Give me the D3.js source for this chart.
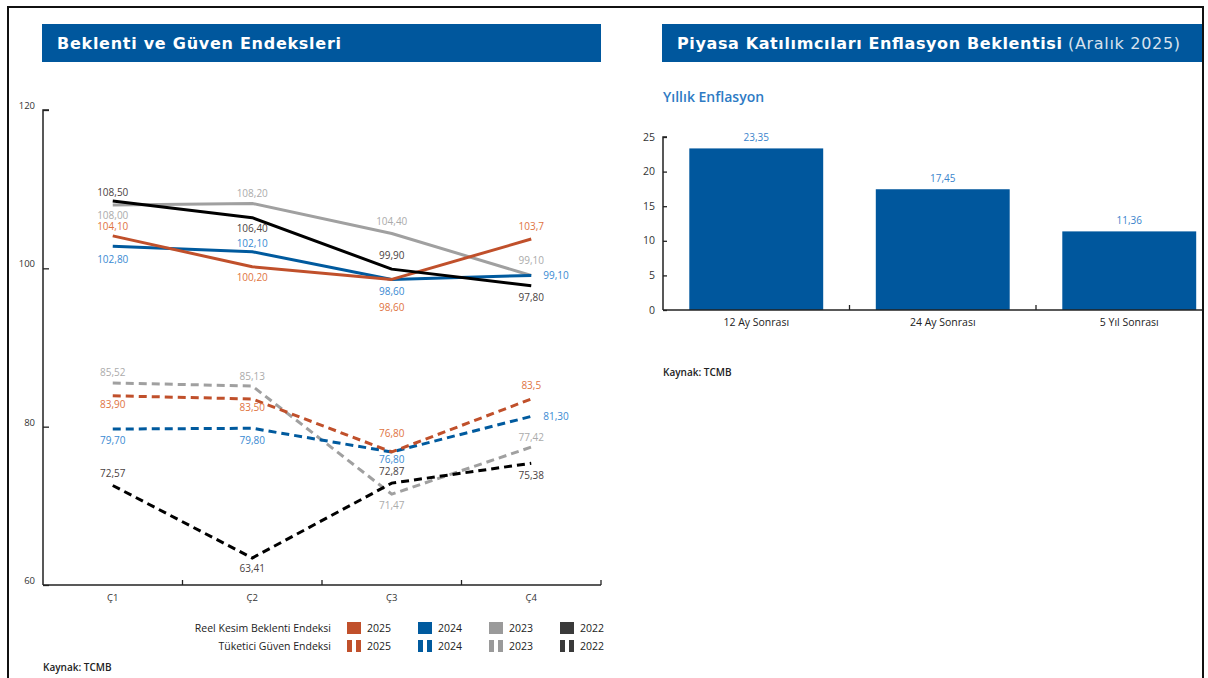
<!DOCTYPE html>
<html><head><meta charset="utf-8">
<script src="https://cdn.jsdelivr.net/npm/d3@7/dist/d3.min.js"></script>
<style>
html,body{margin:0;padding:0;background:#fff;}
svg{display:block;font-family:"Open Sans",sans-serif;}
.hdr{font-family:"DejaVu Sans",sans-serif;}
</style></head>
<body>
<svg id="c" width="1208" height="678"></svg>
<script>
// ---------- DATA ----------
const quarters = ["Ç1", "Ç2", "Ç3", "Ç4"];
const years = ["2025", "2024", "2023", "2022"];

// Reel Kesim Beklenti Endeksi (solid)
const reel2025 = [104.10, 100.20, 98.60, 103.7];
const reel2024 = [102.80, 102.10, 98.60, 99.10];
const reel2023 = [108.00, 108.20, 104.40, 99.10];
const reel2022 = [108.50, 106.40, 99.90, 97.80];
const reelDecimals2025 = [2, 2, 2, 1];

// Tüketici Güven Endeksi (dashed)
const tuk2025 = [83.90, 83.50, 76.80, 83.5];
const tuk2024 = [79.70, 79.80, 76.80, 81.30];
const tuk2023 = [85.52, 85.13, 71.47, 77.42];
const tuk2022 = [72.57, 63.41, 72.87, 75.38];
const tukDecimals2025 = [2, 2, 2, 1];

const leftYTicks = [60, 80, 100, 120];

// Piyasa Katılımcıları Enflasyon Beklentisi
const horizons = ["12 Ay Sonrası", "24 Ay Sonrası", "5 Yıl Sonrası"];
const inflationExp = [23.35, 17.45, 11.36];
const rightYTicks = [0, 5, 10, 15, 20, 25];

// ---------- LAYOUT (label offsets in px, kept separate from data) ----------
const reelLabelDy = {
  "2025": [-9, 11, 28, -13],
  "2024": [13, -8, 12, "r"],
  "2023": [10, -10, -12, -15],
  "2022": [-9, 11, -14, 12]
};
const tukLabelDy = {
  "2025": [9, 9, -19, -13],
  "2024": [11, 12, 7, "r"],
  "2023": [-10, -10, 11, -10],
  "2022": [-12, 10, -12, 12]
};

const lineColor = {"2025": "#C0502B", "2024": "#005A9E", "2023": "#A0A0A0", "2022": "#000000"};
const labelColor = {"2025": "#E0743F", "2024": "#3A8AD2", "2023": "#ABABAB", "2022": "#4A4242"};
const swatchColor = {"2025": "#C0502B", "2024": "#005A9E", "2023": "#9A9A9A", "2022": "#3A3A3A"};

const svg = d3.select("#c");
const fmt = (v, d) => v.toFixed(d).replace(".", ",");

// frame
svg.append("path").attr("d", "M8,678 V7 H1203 V678")
  .attr("fill", "none").attr("stroke", "#111").attr("stroke-width", 2);

// ---------- LEFT PANEL ----------
svg.append("rect").attr("x", 42).attr("y", 24).attr("width", 559).attr("height", 38).attr("fill", "#00579D");
svg.append("text").attr("class", "hdr").attr("x", 57).attr("y", 49).attr("fill", "#fff")
  .attr("font-size", 16).attr("font-weight", 700)
  .attr("textLength", 284).attr("lengthAdjust", "spacing")
  .text("Beklenti ve Güven Endeksleri");

const xL = d3.scaleBand().domain(quarters).range([43, 601]);
const yL = d3.scaleLinear().domain([60, 120]).range([585, 110]);
const cx = q => xL(q) + xL.bandwidth() / 2;

// y axis
const gy = svg.append("g").attr("transform", "translate(43,0)")
  .call(d3.axisRight(yL).tickValues(leftYTicks).tickSize(6).tickFormat(""));
gy.select(".domain").attr("stroke", "#222").attr("stroke-width", 1.5).attr("d", `M6,${yL(120)}H0V${yL(60)}`);
gy.selectAll(".tick line").attr("stroke", "#222").attr("stroke-width", 1.3);
svg.append("g").selectAll("text").data(leftYTicks).join("text")
  .attr("x", 35).attr("y", d => yL(d) - 1).attr("text-anchor", "end")
  .attr("font-size", 9.5).attr("fill", "#333").text(d => d);

// x axis
svg.append("line").attr("x1", 43).attr("x2", 601).attr("y1", 585).attr("y2", 585)
  .attr("stroke", "#222").attr("stroke-width", 1.5);
const bounds = quarters.map(q => xL(q)).concat([xL.range()[1]]).slice(1);
svg.append("g").selectAll("line").data(bounds).join("line")
  .attr("x1", d => d).attr("x2", d => d).attr("y1", 585).attr("y2", 580)
  .attr("stroke", "#222").attr("stroke-width", 1.3);
svg.append("g").selectAll("text").data(quarters).join("text")
  .attr("x", d => cx(d)).attr("y", 601).attr("text-anchor", "middle")
  .attr("font-size", 9.5).attr("fill", "#333").text(d => d);

const line = d3.line().x((d, i) => cx(quarters[i])).y(d => yL(d));

const reel = {"2025": reel2025, "2024": reel2024, "2023": reel2023, "2022": reel2022};
const tuk = {"2025": tuk2025, "2024": tuk2024, "2023": tuk2023, "2022": tuk2022};
const drawOrder = ["2023", "2024", "2025", "2022"];

drawOrder.forEach(y => {
  svg.append("path").datum(tuk[y]).attr("d", line).attr("fill", "none")
    .attr("stroke", lineColor[y]).attr("stroke-width", 3).attr("stroke-dasharray", "8,5");
});
drawOrder.forEach(y => {
  svg.append("path").datum(reel[y]).attr("d", line).attr("fill", "none")
    .attr("stroke", lineColor[y]).attr("stroke-width", 3).attr("stroke-linejoin", "round");
});

function labels(vals, dys, y, decs) {
  const g = svg.append("g");
  vals.forEach((v, i) => {
    const dy = dys[i];
    const right = dy === "r";
    g.append("text")
      .attr("x", right ? cx(quarters[i]) + 12 : cx(quarters[i]))
      .attr("y", yL(v) + (right ? 0 : dy))
      .attr("dy", "0.35em")
      .attr("text-anchor", right ? "start" : "middle")
      .attr("font-size", 10).attr("fill", labelColor[y])
      .text(fmt(v, decs ? decs[i] : 2));
  });
}
years.forEach(y => {
  labels(reel[y], reelLabelDy[y], y, y === "2025" ? reelDecimals2025 : null);
  labels(tuk[y], tukLabelDy[y], y, y === "2025" ? tukDecimals2025 : null);
});

// legend
const legRows = [{name: "Reel Kesim Beklenti Endeksi", y: 628, dashed: false},
                 {name: "Tüketici Güven Endeksi", y: 646, dashed: true}];
const legX = [347, 418, 489, 560];
legRows.forEach(r => {
  svg.append("text").attr("x", 331).attr("y", r.y).attr("dy", "0.35em")
    .attr("text-anchor", "end").attr("font-size", 10.5).attr("fill", "#222").text(r.name);
  years.forEach((yr, i) => {
    if (!r.dashed) {
      svg.append("rect").attr("x", legX[i]).attr("y", r.y - 6).attr("width", 14).attr("height", 12)
        .attr("fill", swatchColor[yr]);
    } else {
      [0, 9].forEach(o => svg.append("rect").attr("x", legX[i] + o).attr("y", r.y - 6)
        .attr("width", 5).attr("height", 12).attr("fill", swatchColor[yr]));
    }
    svg.append("text").attr("x", legX[i] + 20).attr("y", r.y).attr("dy", "0.35em")
      .attr("font-size", 10.5).attr("fill", "#222").text(yr);
  });
});
svg.append("text").attr("x", 43).attr("y", 667).attr("dy", "0.35em")
  .attr("font-size", 10).attr("font-weight", 600).attr("fill", "#222").text("Kaynak: TCMB");

// ---------- RIGHT PANEL ----------
svg.append("defs").append("clipPath").attr("id", "clipR")
  .append("rect").attr("x", 620).attr("y", 0).attr("width", 582).attr("height", 678);
const R = svg.append("g").attr("clip-path", "url(#clipR)");

R.append("rect").attr("x", 662).attr("y", 24).attr("width", 560).attr("height", 38).attr("fill", "#00579D");
R.append("text").attr("class", "hdr").attr("x", 677).attr("y", 49).attr("fill", "#fff")
  .attr("font-size", 16).attr("font-weight", 700)
  .attr("textLength", 385).attr("lengthAdjust", "spacing")
  .text("Piyasa Katılımcıları Enflasyon Beklentisi");
R.append("text").attr("class", "hdr").attr("x", 1068).attr("y", 49).attr("fill", "#D8E2EE")
  .attr("font-size", 16).attr("font-weight", 400)
  .attr("textLength", 112).attr("lengthAdjust", "spacing")
  .text("(Aralık 2025)");

R.append("text").attr("x", 663).attr("y", 97).attr("dy", "0.35em")
  .attr("font-size", 14).attr("font-weight", 600).attr("fill", "#2E7BC4").text("Yıllık Enflasyon");

const xR = d3.scaleBand().domain(horizons).range([663, 1222.5]).paddingInner(0.282).paddingOuter(0.141);
const yR = d3.scaleLinear().domain([0, 25]).range([310, 137]);

R.selectAll("rect.bar").data(inflationExp).join("rect").attr("class", "bar")
  .attr("x", (d, i) => xR(horizons[i])).attr("width", xR.bandwidth())
  .attr("y", d => yR(d)).attr("height", d => yR(0) - yR(d)).attr("fill", "#00579D");
R.selectAll("text.val").data(inflationExp).join("text").attr("class", "val")
  .attr("x", (d, i) => xR(horizons[i]) + xR.bandwidth() / 2).attr("y", d => yR(d) - 11)
  .attr("dy", "0.35em").attr("text-anchor", "middle").attr("font-size", 10)
  .attr("fill", "#3A84CC").text(d => fmt(d, 2));

const gyR = R.append("g").attr("transform", "translate(663,0)")
  .call(d3.axisRight(yR).tickValues(rightYTicks).tickSize(4).tickFormat(""));
gyR.select(".domain").attr("stroke", "#222").attr("stroke-width", 1.5).attr("d", `M4,${yR(25)}H0V${yR(0)}`);
gyR.selectAll(".tick line").attr("stroke", "#222").attr("stroke-width", 1.3);
R.append("g").selectAll("text").data(rightYTicks).join("text")
  .attr("x", 655).attr("y", d => yR(d)).attr("dy", "0.35em").attr("text-anchor", "end")
  .attr("font-size", 10.5).attr("fill", "#333").text(d => d);

R.append("line").attr("x1", 663).attr("x2", 1222).attr("y1", 310).attr("y2", 310)
  .attr("stroke", "#222").attr("stroke-width", 1.5);
const rb = horizons.slice(1).map(h => xR(h) - xR.step() * xR.paddingInner() / 2);
R.append("g").selectAll("line").data(rb).join("line")
  .attr("x1", d => d).attr("x2", d => d).attr("y1", 310).attr("y2", 305)
  .attr("stroke", "#222").attr("stroke-width", 1.3);
R.append("g").selectAll("text").data(horizons).join("text")
  .attr("x", d => xR(d) + xR.bandwidth() / 2).attr("y", 322).attr("dy", "0.35em")
  .attr("text-anchor", "middle").attr("font-size", 10.5).attr("fill", "#222").text(d => d);

R.append("text").attr("x", 663).attr("y", 372).attr("dy", "0.35em")
  .attr("font-size", 10).attr("font-weight", 600).attr("fill", "#222").text("Kaynak: TCMB");
</script>
</body></html>
